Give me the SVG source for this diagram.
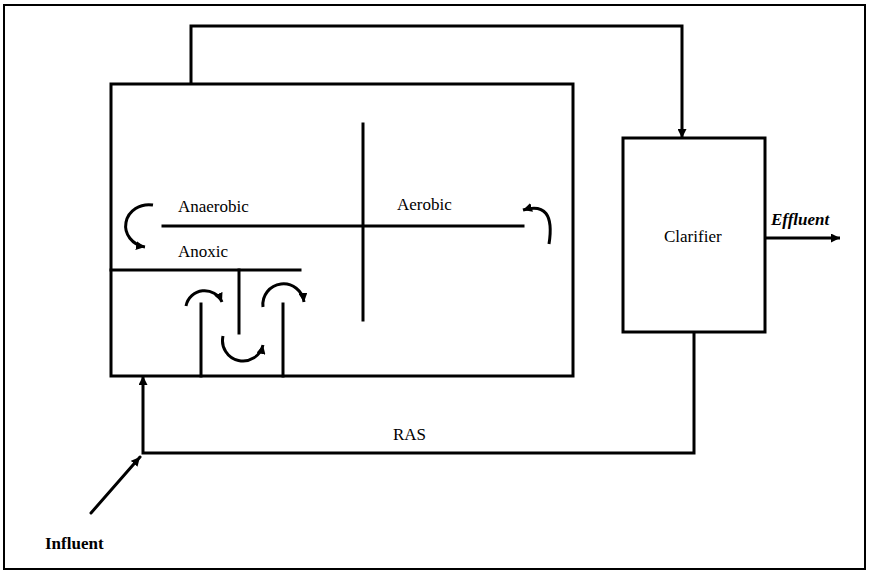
<svg xmlns="http://www.w3.org/2000/svg" width="870" height="572" viewBox="0 0 870 572">
<style>
.ln{fill:none;stroke:#000;stroke-width:3;stroke-linecap:square}
.cn{fill:none;stroke:#000;stroke-width:3}
.t{font-family:"Liberation Serif","Times New Roman",serif;font-size:17px;fill:#000}
</style>
<defs>
<marker id="ah" viewBox="0 0 10 10" refX="10" refY="5" markerUnits="userSpaceOnUse" markerWidth="9" markerHeight="9" orient="auto">
<path d="M0,0 L10,5 L0,10 z" fill="#000"/>
</marker>
</defs>
<rect x="0" y="0" width="870" height="572" fill="#fff"/>
<rect x="4" y="5" width="861" height="564" fill="none" stroke="#000" stroke-width="2"/>
<g id="reactor">
<rect x="111" y="84" width="462" height="292" class="ln"/>
<line x1="163" y1="226" x2="523" y2="226" class="ln"/>
<line x1="363" y1="124" x2="363" y2="320" class="ln"/>
<line x1="111" y1="270" x2="300" y2="270" class="ln"/>
<line x1="239" y1="270" x2="239" y2="333" class="ln"/>
<line x1="201" y1="304" x2="201" y2="376" class="ln"/>
<line x1="283" y1="304" x2="283" y2="376" class="ln"/>
<text class="t" x="178" y="212">Anaerobic</text>
<text class="t" x="178" y="257">Anoxic</text>
<text class="t" x="397" y="210">Aerobic</text>
<path class="cn" d="M153 205 A23 21 0 1 0 145 247" marker-end="url(#ah)"/>
<path class="cn" d="M186 306 A19 19 0 0 1 222 302" marker-end="url(#ah)"/>
<path class="cn" d="M263 307 A20 20 0 0 1 304 302" marker-end="url(#ah)"/>
<path class="cn" d="M223 336 A20 20 0 0 0 263 345" marker-end="url(#ah)"/>
<path class="cn" d="M549 244 Q556 200 523 210" marker-end="url(#ah)"/>
</g>
<g id="clarifier">
<rect x="623" y="138" width="142" height="194" class="ln"/>
<text class="t" x="664" y="242">Clarifier</text>
</g>
<g id="labels">
<text class="t" x="771" y="225" font-weight="bold" font-style="italic">Effluent</text>
<text class="t" x="393" y="440">RAS</text>
<text class="t" x="45" y="549" font-weight="bold" font-size="16">Influent</text>
</g>
<g id="connectors">
<path class="cn" d="M191 84 V26 H682 V138" marker-end="url(#ah)"/>
<path class="cn" d="M694 332 V453 H143 V376" marker-end="url(#ah)"/>
<path class="cn" d="M765 238 H840" marker-end="url(#ah)"/>
<path class="cn" d="M91 513 L140 457" stroke-width="4" stroke-linecap="round" marker-end="url(#ah)"/>
</g>
</svg>
